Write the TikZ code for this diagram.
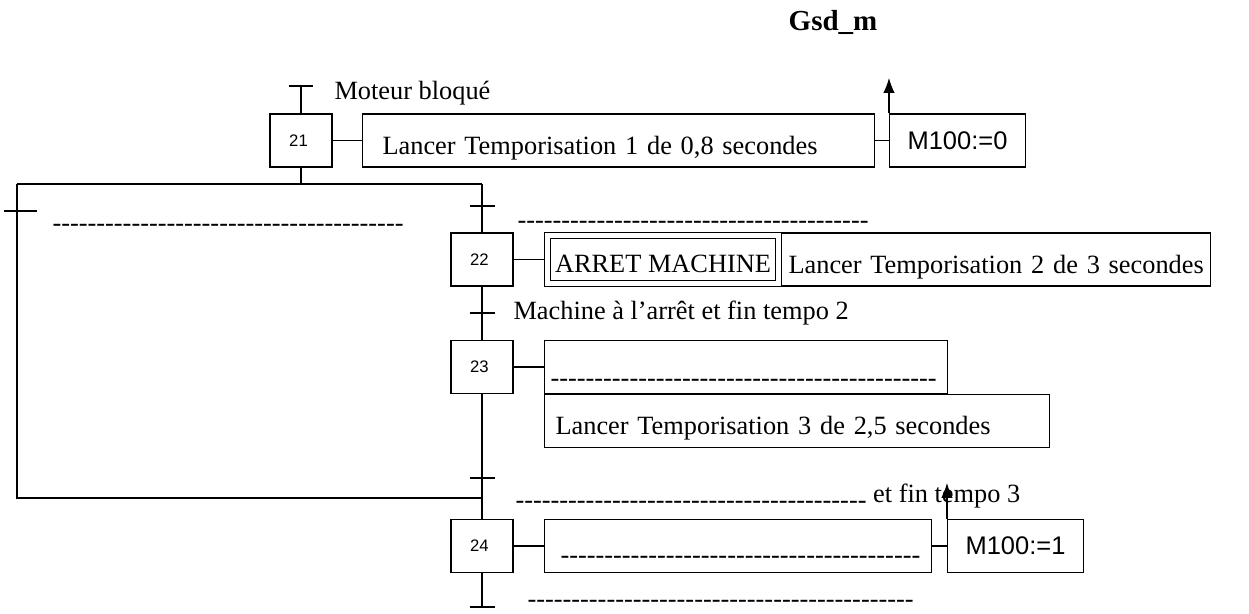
\documentclass[tikz,border=0pt]{standalone}
\usepackage{fontspec}
\setmainfont{Liberation Serif}
\newfontfamily\arialf{Liberation Sans}
\usetikzlibrary{arrows.meta,positioning,calc}
\newcommand\blank[1]{\foreach \k in {1,...,#1}{-\kern0pt}}

\begin{document}
\begin{tikzpicture}[x=0.02cm,y=-0.02cm,
  line width=0.6pt,
  font=\fontsize{15}{18}\selectfont,
  etape/.style={draw,minimum width=1.24cm,minimum height=1.06cm,inner sep=0pt,font=\arialf\fontsize{9.5}{11}\selectfont},
  action/.style={draw,anchor=west,minimum height=1.06cm,inner sep=0pt,align=left,text width=#1,text height=0.66cm,text depth=0.1cm},
  memo/.style={draw,anchor=west,minimum width=2.72cm,minimum height=1.06cm,inner sep=0pt,font=\arialf\fontsize{14.5}{17}\selectfont},
  recep/.style={anchor=base west,inner sep=0pt},
  fleche/.style={-{Latex[length=8.5pt,width=6.5pt]}}
]
\useasboundingbox (0,0) rectangle (1249,614);
\node[font=\bfseries\fontsize{16.5}{20}\selectfont] (titre) at (833,22) {Gsd\_m};

% etapes
\node[etape] (e21) at (301,140.5) {21\hspace*{0.1cm}};
\node[etape] (e22) at (482,259.5) {22\hspace*{0.1cm}};
\node[etape] (e23) at (482,367) {23\hspace*{0.1cm}};
\node[etape] (e24) at (482,546) {24\hspace*{0.1cm}};

% actions
\node[action=10.24cm] (a21) at (362,140.5) {\hspace*{0.4cm}Lancer Temporisation 1 de 0,8 secondes};
\node[memo] (m21) at (889,140.5) {M100:=0};
\node[draw,double,double distance=0.1cm,anchor=west,minimum width=4.62cm,minimum height=0.96cm,
  inner sep=0pt,text height=0.64cm,text depth=0.1cm] (arret) at (547,259.5) {ARRET MACHINE};
\node[action=8.58cm] (a22) at (781,259.5) {\hspace*{0.14cm}Lancer Temporisation 2 de 3 secondes};
\node[action=8.06cm,text height=0.9cm,text depth=0.1cm] (a23a) at (544,367) {\hspace*{0.12cm}\blank{44}};
\node[action=10.1cm] (a23b) at (544,421) {\hspace*{0.22cm}Lancer Temporisation 3 de 2,5 secondes};
\node[action=7.74cm,text height=0.82cm,text depth=0.1cm] (a24) at (544,546) {\hspace*{0.32cm}\blank{41}};
\node[memo] (m24) at (947,546) {M100:=1};

% receptivites
\node[recep] (r21) at (334,100) {Moteur bloqué};
\node[recep] (rg) at (52,232) {\blank{40}};
\node[recep] (rd) at (517,229) {\blank{40}};
\node[recep] (r23) at (513,320) {Machine à l’arrêt et fin tempo 2};
\node[recep] (r24) at (515,503) {\raisebox{-0.11cm}{\blank{40}} et fin tempo 3};
\node[recep] (rfin) at (527,608) {\blank{44}};

% points de la sequence
\coordinate (t21) at (301,86);
\coordinate (div) at (301,184);
\coordinate (divg) at (17,184);
\coordinate (divd) at (482,184);
\coordinate (tg) at (17,211);
\coordinate (td) at (482,206);
\coordinate (t23) at (482,313);
\coordinate (t24) at (482,478);
\coordinate (conv) at (482,498);
\coordinate (convg) at (17,498);
\coordinate (tfin) at (482,607);
\coordinate (f21) at (889,78);
\coordinate (f24) at (947,483);

\draw (t21) -- (e21);
\draw (e21) -- (div);
\draw (divg) -- (divd);
\draw (divd) -- (e22);
\draw (divg) -- (convg) -- (conv);
\draw (e22) -- (e23);
\draw (e23) -- (e24);
\draw (e24) -- (tfin);
\foreach \t in {t21,td,t23,t24,tfin}
  \draw ([xshift=-0.25cm]\t) -- ([xshift=0.25cm]\t);
\draw ([xshift=-0.26cm]tg) -- ([xshift=0.4cm]tg);

% liaisons actions
\draw (e21) -- (a21);
\draw (a21) -- (m21);
\draw[shorten >=0.06cm] (e22) -- (arret);
\draw (e23) -- (a23a);
\draw (e24) -- (a24);
\draw (a24) -- (m24);
\draw[fleche] (m21.north west) -- (f21);
\draw[fleche] (m24.north west) -- (f24);
\end{tikzpicture}
\end{document}
